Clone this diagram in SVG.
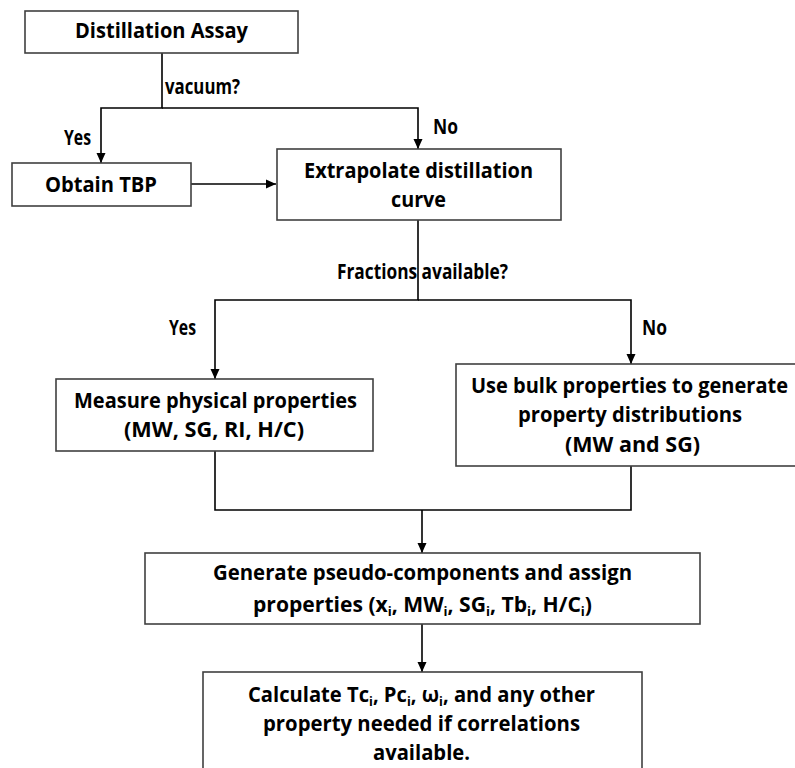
<svg xmlns="http://www.w3.org/2000/svg" width="795" height="768" viewBox="0 0 795 768">
<style>
  .box { fill: #ffffff; stroke: #404040; stroke-width: 1.6; }
  .t { font-family: "Open Sans", "Noto Sans", sans-serif; font-weight: 700; font-size: 21px; fill: #000000; }
  .c { text-anchor: middle; }
  .sub { font-size: 13px; }
  .ln { fill: none; stroke: #000000; stroke-width: 1.6; }
</style>
<defs>
  <marker id="arr" viewBox="0 0 10 10" refX="10" refY="5" markerWidth="10" markerHeight="10" markerUnits="userSpaceOnUse" orient="auto">
    <path d="M0,0.5 L10,5 L0,9.5 Z" fill="#000000"/>
  </marker>
</defs>
<rect width="795" height="768" fill="#ffffff"/>

<g id="connectors">
  <polyline class="ln" points="162,53 162,108 101,108 101,163" marker-end="url(#arr)"/>
  <polyline class="ln" points="162,108 418,108 418,149" marker-end="url(#arr)"/>
  <line class="ln" x1="191" y1="184" x2="276" y2="184" marker-end="url(#arr)"/>
  <polyline class="ln" points="418,220 418,300 215,300 215,379" marker-end="url(#arr)"/>
  <polyline class="ln" points="418,300 631,300 631,364" marker-end="url(#arr)"/>
  <polyline class="ln" points="215,451 215,510 631,510 631,466"/>
  <line class="ln" x1="422" y1="510" x2="422" y2="553" marker-end="url(#arr)"/>
  <line class="ln" x1="422" y1="624" x2="422" y2="672" marker-end="url(#arr)"/>
  <text class="t" x="165" y="94" textLength="75" lengthAdjust="spacingAndGlyphs">vacuum?</text>
  <text class="t" x="64" y="145" textLength="27" lengthAdjust="spacingAndGlyphs">Yes</text>
  <text class="t" x="433" y="134" textLength="25" lengthAdjust="spacingAndGlyphs">No</text>
  <text class="t" x="337" y="279" textLength="171" lengthAdjust="spacingAndGlyphs">Fractions available?</text>
  <text class="t" x="169" y="335" textLength="27" lengthAdjust="spacingAndGlyphs">Yes</text>
  <text class="t" x="642" y="335" textLength="25" lengthAdjust="spacingAndGlyphs">No</text>
</g>

<g id="distillation-assay">
  <rect class="box" x="25" y="11" width="273" height="42"/>
  <text class="t c" x="161.5" y="38" textLength="173" lengthAdjust="spacingAndGlyphs">Distillation Assay</text>
</g>

<g id="obtain-tbp">
  <rect class="box" x="12" y="163" width="179" height="43"/>
  <text class="t c" x="101" y="192" textLength="112" lengthAdjust="spacingAndGlyphs">Obtain TBP</text>
</g>

<g id="extrapolate">
  <rect class="box" x="277" y="149" width="284" height="71"/>
  <text class="t c" x="418.5" y="178" textLength="229" lengthAdjust="spacingAndGlyphs">Extrapolate distillation</text>
  <text class="t c" x="418.5" y="207" textLength="55" lengthAdjust="spacingAndGlyphs">curve</text>
</g>

<g id="measure">
  <rect class="box" x="56" y="379" width="317" height="72"/>
  <text class="t c" x="215.5" y="408" textLength="283" lengthAdjust="spacingAndGlyphs">Measure physical properties</text>
  <text class="t c" x="214" y="437" textLength="180" lengthAdjust="spacingAndGlyphs">(MW, SG, RI, H/C)</text>
</g>

<g id="bulk">
  <rect class="box" x="456" y="364" width="345" height="102"/>
  <text class="t c" x="629.5" y="393" textLength="317" lengthAdjust="spacingAndGlyphs">Use bulk properties to generate</text>
  <text class="t c" x="630" y="422" textLength="224" lengthAdjust="spacingAndGlyphs">property distributions</text>
  <text class="t c" x="632.5" y="452" textLength="135" lengthAdjust="spacingAndGlyphs">(MW and SG)</text>
</g>

<g id="generate">
  <rect class="box" x="145" y="553" width="555" height="71"/>
  <text class="t c" x="422.5" y="580" textLength="419" lengthAdjust="spacingAndGlyphs">Generate pseudo-components and assign</text>
  <text class="t c" x="422.5" y="612" textLength="339" lengthAdjust="spacingAndGlyphs">properties (x<tspan class="sub" dy="4">i</tspan><tspan dy="-4">, MW</tspan><tspan class="sub" dy="4">i</tspan><tspan dy="-4">, SG</tspan><tspan class="sub" dy="4">i</tspan><tspan dy="-4">, Tb</tspan><tspan class="sub" dy="4">i</tspan><tspan dy="-4">, H/C</tspan><tspan class="sub" dy="4">i</tspan><tspan dy="-4">)</tspan></text>
</g>

<g id="calculate">
  <rect class="box" x="203" y="672" width="439" height="110"/>
  <text class="t c" x="421.5" y="702" textLength="347" lengthAdjust="spacingAndGlyphs">Calculate Tc<tspan class="sub" dy="4">i</tspan><tspan dy="-4">, Pc</tspan><tspan class="sub" dy="4">i</tspan><tspan dy="-4">, ω</tspan><tspan class="sub" dy="4">i</tspan><tspan dy="-4">, and any other</tspan></text>
  <text class="t c" x="421.5" y="731" textLength="317" lengthAdjust="spacingAndGlyphs">property needed if correlations</text>
  <text class="t c" x="421.5" y="760" textLength="97" lengthAdjust="spacingAndGlyphs">available.</text>
</g>
</svg>
